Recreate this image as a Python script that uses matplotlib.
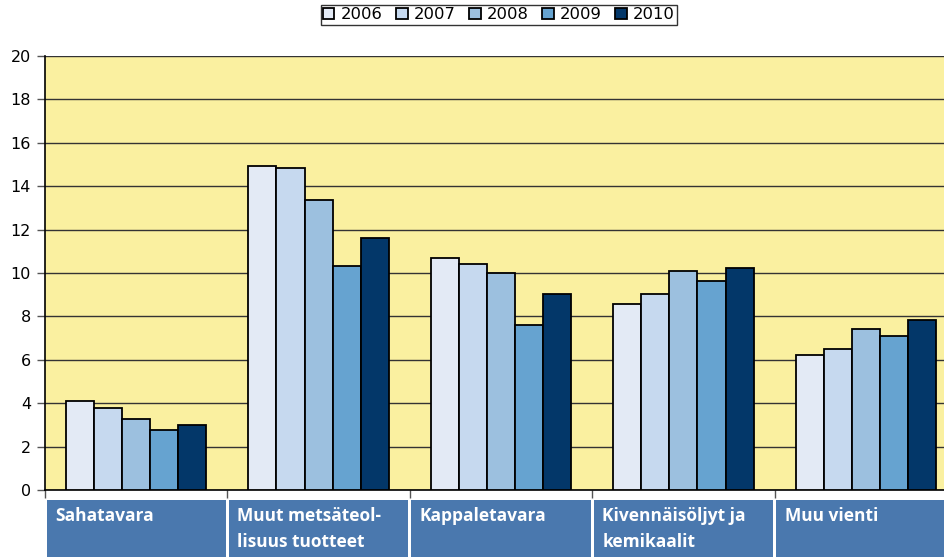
import numpy as np
import matplotlib.pyplot as plt
from matplotlib.patches import Rectangle
import matplotlib.transforms as mtransforms

# data
categories = ["Sahatavara", "Muut metsäteol-\nlisuus tuotteet", "Kappaletavara",
              "Kivennäisöljyt ja\nkemikaalit", "Muu vienti"]
years = ["2006", "2007", "2008", "2009", "2010"]
v2006 = [4.1, 14.95, 10.7, 8.55, 6.22]
v2007 = [3.8, 14.85, 10.4, 9.05, 6.52]
v2008 = [3.27, 13.38, 10.0, 10.1, 7.43]
v2009 = [2.77, 10.3, 7.62, 9.63, 7.08]
v2010 = [3.0, 11.6, 9.05, 10.23, 7.85]
series = [v2006, v2007, v2008, v2009, v2010]
colors = ["#E3EAF5", "#C6D9EF", "#9CC0DF", "#66A3D0", "#033769"]

fig = plt.figure(figsize=(9.44, 5.57), dpi=100)
ax = fig.add_axes([45/944, 1-490/557, 912/944, 434/557])
ax.set_facecolor("#FAF0A0")

x = np.arange(len(categories))
w = 0.154
for i, (vals, c, yr) in enumerate(zip(series, colors, years)):
    ax.bar(x + (i - 2) * w, vals, width=w, color=c, edgecolor="black",
           linewidth=1.3, label=yr, zorder=3)

ax.set_xlim(-0.5, len(categories) - 0.5)
ax.set_ylim(0, 20)
ax.set_yticks(np.arange(0, 21, 2))
ax.yaxis.grid(True, color="#333333", linewidth=1.0, zorder=0)
ax.set_axisbelow(True)
ax.tick_params(axis="y", labelsize=11.5, length=6, width=1, color="#555555", pad=4)
ax.set_xticks(np.arange(-0.5, len(categories) + 0.5, 1))
ax.set_xticklabels([])
ax.tick_params(axis="x", length=6, width=1, color="#555555")
for s in ["top", "right"]:
    ax.spines[s].set_visible(False)
ax.spines["left"].set_linewidth(1.2)
ax.spines["bottom"].set_linewidth(1.2)

# kategoriaruudut alhaalla
trans = mtransforms.blended_transform_factory(ax.transData, fig.transFigure)
for i, cat in enumerate(categories):
    r = Rectangle((i - 0.5 + 0.009, 0), 1 - 0.018, 1 - 500/557, transform=trans,
                  facecolor="#4A78AE", edgecolor="none", clip_on=False, zorder=5)
    fig.add_artist(r)
    fig.text(i - 0.5 + 0.055, 1 - 507/557, cat, transform=trans, color="white",
             fontsize=12.5, fontweight="bold", family="Open Sans",
             va="top", ha="left", linespacing=1.55, zorder=6)

leg = ax.legend(loc="upper center", bbox_to_anchor=(499/944, 1 - 5/557),
                bbox_transform=fig.transFigure, ncol=5, fontsize=11.8,
                frameon=True, fancybox=False, edgecolor="black",
                handlelength=0.7, handleheight=0.7, handletextpad=0.4,
                columnspacing=0.8, borderpad=0.15, borderaxespad=0)
leg.get_frame().set_linewidth(1.0)

fig.savefig("out.png", dpi=100)
